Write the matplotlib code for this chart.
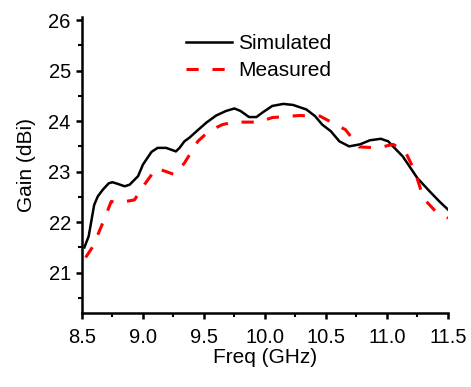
import numpy as np
import matplotlib.pyplot as plt
from matplotlib.ticker import MultipleLocator

plt.rcParams['font.family'] = ['Liberation Sans', 'DejaVu Sans']

# simulated gain
sim_f = [8.52, 8.555, 8.60, 8.63, 8.67, 8.72, 8.75, 8.79, 8.85, 8.89, 8.96, 9.00,
         9.07, 9.12, 9.19, 9.27, 9.30, 9.34, 9.38, 9.44, 9.52, 9.60, 9.68, 9.75,
         9.80, 9.87, 9.93, 9.98, 10.06, 10.15, 10.23, 10.34, 10.41, 10.47, 10.54,
         10.61, 10.69, 10.78, 10.86, 10.95, 11.01, 11.05, 11.13, 11.25, 11.35,
         11.43, 11.50]
sim_g = [21.50, 21.72, 22.34, 22.51, 22.64, 22.77, 22.79, 22.76, 22.71, 22.74,
         22.91, 23.14, 23.39, 23.47, 23.47, 23.40, 23.47, 23.60, 23.67, 23.80,
         23.97, 24.11, 24.20, 24.25, 24.20, 24.08, 24.08, 24.17, 24.30, 24.34,
         24.32, 24.23, 24.10, 23.93, 23.80, 23.60, 23.50, 23.54, 23.62, 23.65,
         23.60, 23.50, 23.30, 22.87, 22.61, 22.41, 22.25]

# measured gain
mea_f = [8.53, 8.59, 8.67, 8.74, 8.79, 8.93, 9.02, 9.11, 9.26, 9.34, 9.45, 9.54,
         9.65, 9.74, 9.95, 10.06, 10.28, 10.45, 10.66, 10.77, 10.93, 11.05, 11.15,
         11.23, 11.30, 11.40, 11.50]
mea_g = [21.30, 21.52, 21.98, 22.41, 22.38, 22.44, 22.77, 23.07, 22.94, 23.17,
         23.60, 23.80, 23.93, 23.98, 23.98, 24.07, 24.11, 24.10, 23.83, 23.49,
         23.47, 23.54, 23.40, 23.00, 22.47, 22.21, 22.08]

xticks = [8.5, 9.0, 9.5, 10.0, 10.5, 11.0, 11.5]
xlabels = ['8.5', '9.0', '9.5', '10.0', '10.5', '11.0', '11.5']

fig = plt.figure(figsize=(4.71, 3.87), dpi=100)
ax = fig.add_axes([0.174, 0.191, 0.777, 0.765])

ax.plot(sim_f, sim_g, color='black', lw=1.8, label='Simulated')
ax.plot(mea_f, mea_g, color='red', lw=2.2, dashes=(4, 4.5), label='Measured')

ax.set_xlim(8.5, 11.5)
ax.set_ylim(20.2, 26.06)
ax.xaxis.set_minor_locator(MultipleLocator(0.25))
ax.yaxis.set_major_locator(MultipleLocator(1))
ax.yaxis.set_minor_locator(MultipleLocator(0.5))
ax.set_xticks(xticks)
ax.set_xticklabels(xlabels)

for s in ['top', 'right']:
    ax.spines[s].set_visible(False)
for s in ['left', 'bottom']:
    ax.spines[s].set_linewidth(1.8)
ax.tick_params(which='major', length=4, width=1.8, labelsize=14.5, direction='out')
ax.tick_params(axis='x', which='major', pad=7)
ax.tick_params(axis='y', which='major', pad=4)
ax.tick_params(which='minor', length=3, width=1.5, direction='out')

ax.set_xlabel('Freq (GHz)', fontsize=15, labelpad=0.5)
ax.set_ylabel('Gain (dBi)', fontsize=15, labelpad=9)

ax.legend(loc='upper left', frameon=False, fontsize=15, handlelength=2.2,
          handletextpad=0.3, borderpad=0, borderaxespad=0,
          bbox_to_anchor=(0.284, 0.943), labelspacing=0.4)

fig.savefig('out.png', dpi=100)
